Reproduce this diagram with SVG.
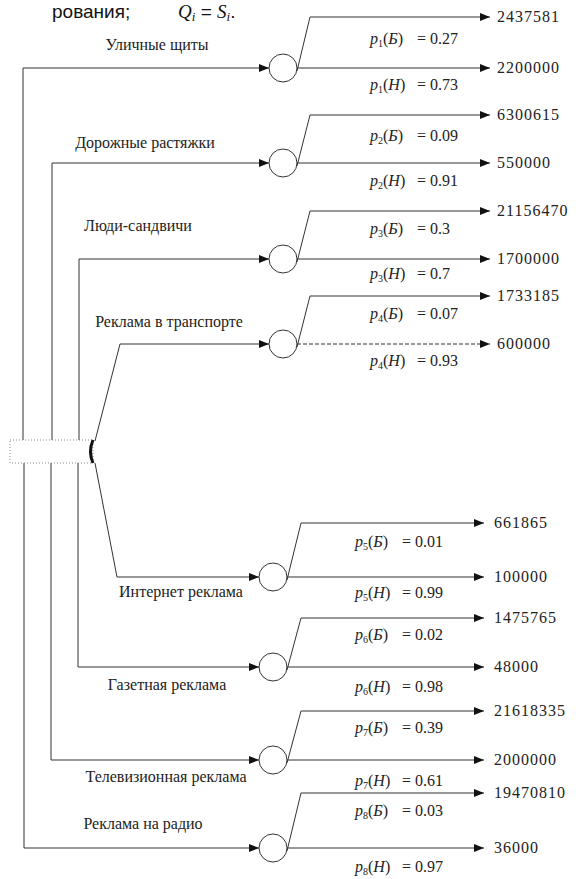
<svg xmlns="http://www.w3.org/2000/svg" width="587" height="879" viewBox="0 0 587 879">
<style>
.ln{stroke:#333;stroke-width:1;fill:none}
.dash{stroke:#333;stroke-width:1;fill:none;stroke-dasharray:4 2}
.arr{marker-end:url(#ah)}
.nd{fill:#fff;stroke:#333;stroke-width:1}
.t{font-family:"Liberation Serif","Times New Roman",serif;font-size:16px;fill:#222}
.v{font-family:"Liberation Serif","Times New Roman",serif;font-size:16px;letter-spacing:1px;fill:#222}
.p{font-family:"Liberation Serif","Times New Roman",serif;font-size:16px;fill:#222}
.i{font-style:italic}
.s{font-size:10px}
.cap{font-family:"Liberation Sans",Arial,sans-serif;font-size:19px;fill:#111}
.capi{font-family:"Liberation Serif","Times New Roman",serif;font-style:italic;font-size:19px;fill:#111}
</style>
<defs>
<marker id="ah" markerWidth="10" markerHeight="8" refX="10" refY="4" orient="auto" markerUnits="userSpaceOnUse">
<path d="M0,0 L10,4 L0,8 z" fill="#111"/>
</marker>
</defs>
<rect width="587" height="879" fill="#fff"/>
<text class="cap" x="52" y="18">рования;</text>
<text class="capi" x="178" y="18">Q<tspan font-size="13" dy="3">i</tspan><tspan dy="-3" font-style="normal" font-family="Liberation Sans"> = </tspan>S<tspan font-size="13" dy="3">i</tspan><tspan dy="-3" font-style="normal" font-family="Liberation Sans">.</tspan></text>

<g id="connectors">
<path class="ln arr" d="M23,440 V68 H269"/>
<path class="ln arr" d="M52,440 V163 H269"/>
<path class="ln arr" d="M79,440 V259 H269"/>
<path class="ln arr" d="M95,441 L120,344 H269"/>
<path class="ln arr" d="M95,463 L117,577 H259"/>
<path class="ln arr" d="M78,463 V667 H259"/>
<path class="ln arr" d="M51,463 V760 H259"/>
<path class="ln arr" d="M24,463 V848 H259"/>
<path class="ln arr" d="M297,71 L310,17 H490"/>
<path class="ln arr" d="M297,68 H490"/>
<path class="ln arr" d="M297,166 L310,115 H490"/>
<path class="ln arr" d="M297,163 H490"/>
<path class="ln arr" d="M297,262 L310,211 H490"/>
<path class="ln arr" d="M297,259 H490"/>
<path class="ln arr" d="M297,347 L310,296 H490"/>
<path class="dash arr" d="M297,344 H490"/>
<path class="ln arr" d="M287,580 L301,523 H484"/>
<path class="ln arr" d="M287,577 H484"/>
<path class="ln arr" d="M287,670 L301,618 H484"/>
<path class="ln arr" d="M287,667 H484"/>
<path class="ln arr" d="M287,763 L301,711 H484"/>
<path class="ln arr" d="M287,760 H484"/>
<path class="ln arr" d="M287,851 L301,793 H484"/>
<path class="ln arr" d="M287,848 H484"/>
</g>

<g id="root">
<rect x="10" y="440" width="83" height="23" fill="#fff" stroke="#888" stroke-width="1" stroke-dasharray="1 2"/>
<path d="M93,440 Q88,451.5 93,463" fill="none" stroke="#111" stroke-width="3"/>
</g>

<g id="n1"><circle class="nd" cx="283" cy="68" r="14"/><text class="t" x="157" y="50" text-anchor="middle">Уличные щиты</text></g>
<g id="n2"><circle class="nd" cx="283" cy="163" r="14"/><text class="t" x="145" y="148" text-anchor="middle">Дорожные растяжки</text></g>
<g id="n3"><circle class="nd" cx="283" cy="259" r="14"/><text class="t" x="138" y="231" text-anchor="middle">Люди-сандвичи</text></g>
<g id="n4"><circle class="nd" cx="283" cy="344" r="14"/><text class="t" x="169" y="327" text-anchor="middle">Реклама в транспорте</text></g>
<g id="n5"><circle class="nd" cx="273" cy="577" r="14"/><text class="t" x="181" y="597" text-anchor="middle">Интернет реклама</text></g>
<g id="n6"><circle class="nd" cx="273" cy="667" r="14"/><text class="t" x="167" y="690" text-anchor="middle">Газетная реклама</text></g>
<g id="n7"><circle class="nd" cx="273" cy="760" r="14"/><text class="t" x="166" y="782" text-anchor="middle">Телевизионная реклама</text></g>
<g id="n8"><circle class="nd" cx="273" cy="848" r="14"/><text class="t" x="143" y="829" text-anchor="middle">Реклама на радио</text></g>

<g id="outcomes">
<text class="v" x="497" y="22">2437581</text>
<text class="v" x="497" y="73">2200000</text>
<text class="v" x="497" y="120">6300615</text>
<text class="v" x="497" y="168">550000</text>
<text class="v" x="497" y="216">21156470</text>
<text class="v" x="497" y="264">1700000</text>
<text class="v" x="497" y="301">1733185</text>
<text class="v" x="497" y="349">600000</text>
<text class="v" x="494" y="528">661865</text>
<text class="v" x="494" y="582">100000</text>
<text class="v" x="494" y="623">1475765</text>
<text class="v" x="494" y="672">48000</text>
<text class="v" x="494" y="716">21618335</text>
<text class="v" x="494" y="765">2000000</text>
<text class="v" x="494" y="798">19470810</text>
<text class="v" x="494" y="853">36000</text>
</g>

<g id="probabilities">
<text class="p" x="370" y="44"><tspan class="i">p</tspan><tspan class="s" dy="3">1</tspan><tspan dy="-3">(</tspan><tspan class="i">Б</tspan>)<tspan x="417">=</tspan><tspan x="430">0.27</tspan></text>
<text class="p" x="370" y="90"><tspan class="i">p</tspan><tspan class="s" dy="3">1</tspan><tspan dy="-3">(</tspan><tspan class="i">Н</tspan>)<tspan x="417">=</tspan><tspan x="430">0.73</tspan></text>
<text class="p" x="370" y="141"><tspan class="i">p</tspan><tspan class="s" dy="3">2</tspan><tspan dy="-3">(</tspan><tspan class="i">Б</tspan>)<tspan x="417">=</tspan><tspan x="430">0.09</tspan></text>
<text class="p" x="370" y="186"><tspan class="i">p</tspan><tspan class="s" dy="3">2</tspan><tspan dy="-3">(</tspan><tspan class="i">Н</tspan>)<tspan x="417">=</tspan><tspan x="430">0.91</tspan></text>
<text class="p" x="370" y="234"><tspan class="i">p</tspan><tspan class="s" dy="3">3</tspan><tspan dy="-3">(</tspan><tspan class="i">Б</tspan>)<tspan x="417">=</tspan><tspan x="430">0.3</tspan></text>
<text class="p" x="370" y="279"><tspan class="i">p</tspan><tspan class="s" dy="3">3</tspan><tspan dy="-3">(</tspan><tspan class="i">Н</tspan>)<tspan x="417">=</tspan><tspan x="430">0.7</tspan></text>
<text class="p" x="370" y="319"><tspan class="i">p</tspan><tspan class="s" dy="3">4</tspan><tspan dy="-3">(</tspan><tspan class="i">Б</tspan>)<tspan x="417">=</tspan><tspan x="430">0.07</tspan></text>
<text class="p" x="370" y="366"><tspan class="i">p</tspan><tspan class="s" dy="3">4</tspan><tspan dy="-3">(</tspan><tspan class="i">Н</tspan>)<tspan x="417">=</tspan><tspan x="430">0.93</tspan></text>
<text class="p" x="355" y="547"><tspan class="i">p</tspan><tspan class="s" dy="3">5</tspan><tspan dy="-3">(</tspan><tspan class="i">Б</tspan>)<tspan x="402">=</tspan><tspan x="415">0.01</tspan></text>
<text class="p" x="355" y="598"><tspan class="i">p</tspan><tspan class="s" dy="3">5</tspan><tspan dy="-3">(</tspan><tspan class="i">Н</tspan>)<tspan x="402">=</tspan><tspan x="415">0.99</tspan></text>
<text class="p" x="355" y="640"><tspan class="i">p</tspan><tspan class="s" dy="3">6</tspan><tspan dy="-3">(</tspan><tspan class="i">Б</tspan>)<tspan x="402">=</tspan><tspan x="415">0.02</tspan></text>
<text class="p" x="355" y="692"><tspan class="i">p</tspan><tspan class="s" dy="3">6</tspan><tspan dy="-3">(</tspan><tspan class="i">Н</tspan>)<tspan x="402">=</tspan><tspan x="415">0.98</tspan></text>
<text class="p" x="355" y="733"><tspan class="i">p</tspan><tspan class="s" dy="3">7</tspan><tspan dy="-3">(</tspan><tspan class="i">Б</tspan>)<tspan x="402">=</tspan><tspan x="415">0.39</tspan></text>
<text class="p" x="355" y="786"><tspan class="i">p</tspan><tspan class="s" dy="3">7</tspan><tspan dy="-3">(</tspan><tspan class="i">Н</tspan>)<tspan x="402">=</tspan><tspan x="415">0.61</tspan></text>
<text class="p" x="355" y="816"><tspan class="i">p</tspan><tspan class="s" dy="3">8</tspan><tspan dy="-3">(</tspan><tspan class="i">Б</tspan>)<tspan x="402">=</tspan><tspan x="415">0.03</tspan></text>
<text class="p" x="355" y="872"><tspan class="i">p</tspan><tspan class="s" dy="3">8</tspan><tspan dy="-3">(</tspan><tspan class="i">Н</tspan>)<tspan x="402">=</tspan><tspan x="415">0.97</tspan></text>
</g>
</svg>
